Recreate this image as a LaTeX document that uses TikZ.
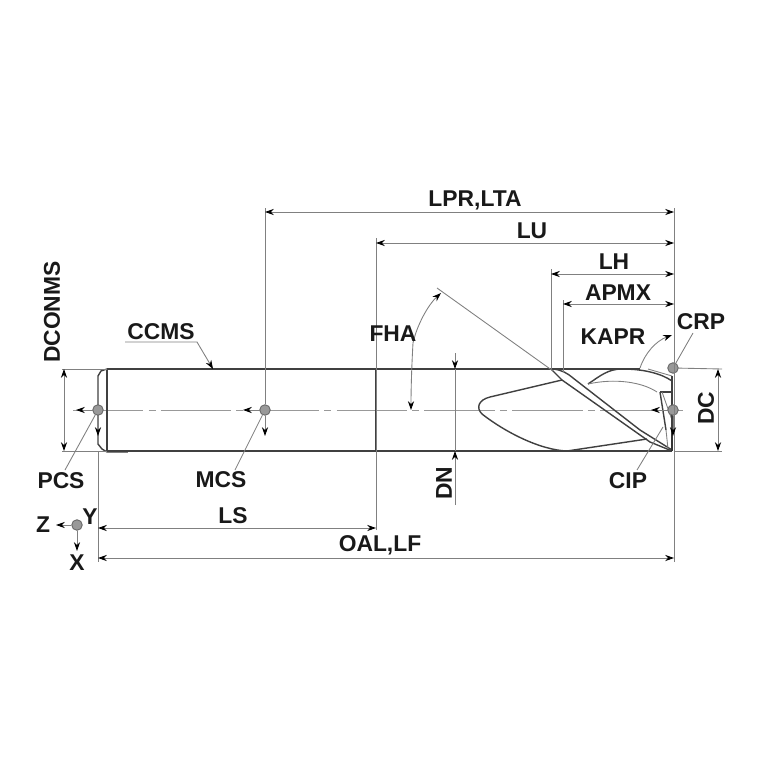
\documentclass[tikz,border=0pt]{standalone}
\usepackage{fontspec}
\setmainfont{Liberation Sans}
\usetikzlibrary{arrows.meta}
\tikzset{
  thinline/.style={color=black!50,line width=0.5pt},
  bodyline/.style={color=black!75,line width=0.8pt},
  dimline/.style={thinline,{Stealth[length=5pt,width=3.5pt,color=black]}-{Stealth[length=5pt,width=3.5pt,color=black]}},
  tipline/.style={thinline,-{Stealth[length=5pt,width=3.5pt,color=black]}},
  lbl/.style={font=\bfseries\fontsize{13}{15}\selectfont,color=black!90,inner sep=0pt},
  refpoint/.style={circle,draw=black!60,fill=black!40,line width=0.5pt,minimum size=6pt,inner sep=0pt}
}
\begin{document}
\begin{tikzpicture}[x=0.02cm,y=-0.02cm]
    \useasboundingbox (0,0) rectangle (767,767);
    % centre line
    \draw [color=black!40,line width=0.5pt,dash pattern=on 40pt off 3pt on 4pt off 3pt] (73,410) -- (685,410);
    % shank
    \draw [bodyline] (107,369) -- (640,369);
    \draw [bodyline] (107,451) -- (672,451);
    \draw [bodyline] (107,369) -- (107,451);
    \draw [bodyline] (107,369) -- (101,371) -- (98,376) -- (98,444) -- (102,449) -- (107,452);
    \draw [thinline] (107,452) -- (128,452);
    \draw [bodyline] (376,369) -- (376,451);
    % flutes
    \draw [bodyline] (562,380) -- (490,397) .. controls (478,400) and (476,408) .. (482,414)
      .. controls (505,432) and (540,450) .. (567,451) -- (647,439);
    \draw [bodyline] (553,369) .. controls (562,370) and (567,373) .. (573,378) -- (640,430) -- (672,450);
    \draw [bodyline] (551,369) -- (562,380) -- (650,442) -- (672,451);
    \draw [bodyline] (588,384) .. controls (600,376) and (608,369) .. (622,369)
      .. controls (645,369) and (662,374) .. (672,381);
    \draw [thinline] (648,369) -- (672,376);
    \draw [thinline] (588,384) .. controls (615,378) and (642,382) .. (657,392);
    % tip
    \draw [bodyline] (660,392) -- (672,392);
    \draw [bodyline] (660,392) -- (666,430);
    \draw [thinline] (662,392) -- (672,420);
    \draw [thinline] (666,430) -- (668,449);
    \draw [line width=1.4pt,color=black!80] (672,430) -- (672,451);
    \draw [bodyline] (672,376) -- (672,430);
    % extension lines
    \node [refpoint] (pcs) at (98,410) {};
    \node [refpoint] (mcs) at (265,410) {};
    \node [refpoint] (crp) at (673,368) {};
    \node [refpoint] (cip) at (673,410) {};
    \node [refpoint] (wcs) at (77,525) {};
    \draw [thinline] (98,451) -- (98,562);
    \draw [thinline] (mcs) -- (265,208);
    \draw [thinline] (376,530) -- (376,238);
    \draw [thinline] (551,369) -- (551,269);
    \draw [thinline] (563,372) -- (563,300);
    \draw [thinline] (674,562) -- (674,208);
    \draw [thinline] (62,369) -- (107,369);
    \draw [thinline] (62,451) -- (107,451);
    \draw [thinline] (crp) -- (722,369);
    \draw [thinline] (674,451) -- (722,451);
    % flank line
    \draw [thinline] (437,288) -- (553,371);
    % dimensions
    \foreach \xa/\xb/\y in {265/674/212,376/674/243,551/674/274,563/674/304,98/376/528,98/674/558}
    \draw [dimline] (\xa,\y) -- (\xb,\y);
    \draw [dimline] (64,369) -- (64,451);
    \draw [dimline] (718,369) -- (718,451);
    % DN
    \draw [thinline] (455,369) -- (455,451);
    \draw [tipline] (455,353) -- (455,369);
    \draw [tipline] (455,505) -- (455,451);
    % coordinate axes
    \foreach \n in {pcs,mcs,cip}{
      \draw [tipline] (\n) -- ++(-22,0);
      \draw [tipline] (\n) -- ++(0,26);
    }
    \draw [tipline] (wcs) -- (56,525);
    \draw [tipline] (wcs) -- (77,551);
    % angles
    \draw [tipline] (413,343) .. controls (412,360) and (411,385) .. (411,410);
    \draw [tipline] (413,343) .. controls (417,325) and (428,305) .. (441,293);
    \draw [tipline] (640,368) .. controls (645,353) and (656,341) .. (672,335);
    % labels
    \node [lbl] (lpr) at (475,200.5) {LPR,LTA};
    \node [lbl] (lu) at (532,231) {LU};
    \node [lbl] (lh) at (614,262) {LH};
    \node [lbl] (apmx) at (618,293) {APMX};
    \node [lbl] (kapr) at (613,337) {KAPR};
    \node [lbl] (crplbl) at (701,322) {CRP};
    \node [lbl] (fha) at (393,334) {FHA};
    \node [lbl] (ccms) at (161,332) {CCMS};
    \node [lbl,rotate=90] (dconms) at (52,312) {DCONMS};
    \node [lbl,rotate=90] (dc) at (706,408) {DC};
    \node [lbl,rotate=90] (dn) at (444,483) {DN};
    \node [lbl] (pcslbl) at (61,481) {PCS};
    \node [lbl] (mcslbl) at (221,480) {MCS};
    \node [lbl] (ciplbl) at (628,481) {CIP};
    \node [lbl] (ls) at (233,516) {LS};
    \node [lbl] (oal) at (380,545.5) {OAL,LF};
    \node [lbl] (zlbl) at (43,525) {Z};
    \node [lbl] (ylbl) at (90,517) {Y};
    \node [lbl] (xlbl) at (77,563) {X};
    % leaders
    \draw [thinline] (pcs) -- (65,470);
    \draw [thinline] (mcs) -- (235,470);
    \draw [thinline] (crp) -- (693,333);
    \draw [thinline] (663,427) -- (637,470);
    \draw [tipline] (125,342) -- (197,342) -- (213,369);
  \end{tikzpicture}
\end{document}
